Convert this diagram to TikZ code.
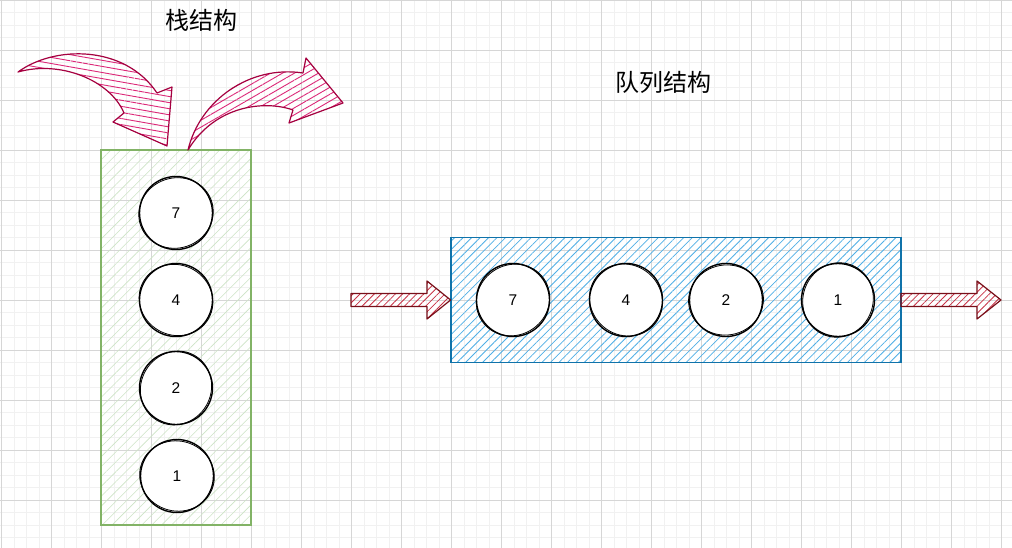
\documentclass[tikz,border=0pt]{standalone}
\usepackage{fontspec}
\setmainfont{Liberation Sans}
\newfontfamily\cjk{Noto Sans CJK SC}
\usetikzlibrary{patterns.meta}
\definecolor{gmaj}{RGB}{214,214,214}
\definecolor{gmin}{RGB}{241,241,241}
\definecolor{stkline}{RGB}{130,179,102}
\definecolor{stkfill}{RGB}{205,228,198}
\definecolor{qline}{RGB}{16,115,170}
\definecolor{qfill}{RGB}{80,175,230}
\definecolor{rline}{RGB}{120,15,25}
\definecolor{rfill}{RGB}{200,50,70}
\definecolor{mline}{RGB}{165,0,64}
\definecolor{mfill}{RGB}{220,40,120}
\begin{document}
\begin{tikzpicture}[x=1pt,y=-1pt,
 minorgrid/.style={gmin,line width=0.7pt},
 majorgrid/.style={gmaj,line width=0.8pt},
 stackbox/.style={draw=stkline,line width=1.5pt,pattern={Lines[angle=45,distance=7pt,line width=0.6pt]},pattern color=stkfill,minimum width=150pt,minimum height=375pt,inner sep=0pt},
 queuebox/.style={draw=qline,line width=1.5pt,pattern={Lines[angle=45,distance=6pt,line width=0.8pt]},pattern color=qfill,minimum width=450pt,minimum height=125pt,inner sep=0pt},
 ball/.style={circle,draw=black,line width=1.4pt,fill=white,minimum size=73pt,inner sep=0pt,font=\fontsize{15.5}{17}\selectfont},
 sk/.style={black,line width=0.8pt},
 flatarrow/.style={draw=rline,line width=1.2pt,line join=round,pattern={Lines[angle=45,distance=5pt,line width=0.8pt]},pattern color=rfill},
 curvarrow/.style={draw=mline,line width=1.2pt,line join=round,pattern={Lines[angle=#1,distance=6pt,line width=0.9pt]},pattern color=mfill},
 title/.style={font=\cjk\fontsize{24}{28}\selectfont}
]
\useasboundingbox (0,0) rectangle (1012,548);
\fill[white] (0,0) rectangle (1012,548);
% grid
\foreach \i in {0,...,81} \draw[minorgrid] ({1.7+12.5*\i},0) -- ({1.7+12.5*\i},548);
\foreach \j in {0,...,44} \draw[minorgrid] (0,{12.5*\j}) -- (1012,{12.5*\j});
\foreach \i in {0,...,20} \draw[majorgrid] ({1.7+50*\i},0) -- ({1.7+50*\i},548);
\foreach \j in {0,...,10} \draw[majorgrid] (0,{50*\j}) -- (1012,{50*\j});
% containers
\node[stackbox] (stack) at (176,337.5) {};
\node[queuebox] (queue) at (676,300) {};
% balls
\node[ball] (s7) at (176,213) {7};
\node[ball] (s4) at (176,300) {4};
\node[ball] (s2) at (176,388) {2};
\node[ball] (s1) at (177,476) {1};
\node[ball] (q7) at (513,300) {7};
\node[ball] (q4) at (626,300) {4};
\node[ball] (q2) at (726,300) {2};
\node[ball] (q1) at (838,300) {1};
\foreach \n/\r in {s7/20,s4/-30,s2/60,s1/-15,q7/35,q4/-40,q2/10,q1/70}
  \draw[sk] (\n.center) ellipse [x radius=37.5, y radius=35, rotate=\r];
% straight arrows
\coordinate (inTail) at (351,300);
\coordinate (outTip) at (1001,300);
\draw[flatarrow] (351,293.5) -- (427,293.5) -- (427,281) -- (queue.west) -- (427,319) -- (427,306.5) -- (351,306.5) -- cycle;
\draw[flatarrow] (901,293.5) -- (977,293.5) -- (977,281) -- (outTip) -- (977,319) -- (977,306.5) -- (901,306.5) -- cycle;
% curved arrows
\draw[curvarrow=-10] (18,72) .. controls (55,45) and (125,45) .. (157,93) -- (172,87) -- (167,146) -- (113,122) -- (124,113) .. controls (110,80) and (60,60) .. (18,72) -- cycle;
\draw[curvarrow=30] (188,150) .. controls (200,100) and (250,65) .. (303,73) -- (306,58) -- (343,103) -- (289,123) -- (293,110) .. controls (265,100) and (215,105) .. (188,150) -- cycle;
% titles
\node[title] (t1) at (201,20) {栈结构};
\node[title] (t2) at (663,82) {队列结构};
\end{tikzpicture}
\end{document}
